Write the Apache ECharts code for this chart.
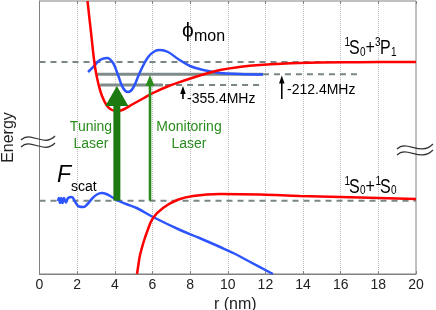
<!DOCTYPE html>
<html><head><meta charset="utf-8">
<script src="https://cdn.jsdelivr.net/npm/echarts@6/dist/echarts.min.js"></script>
<style>html,body{margin:0;padding:0;background:#fff}#c{width:436px;height:310px}</style>
</head><body><div id="c"></div>
<script>
// x in nm, y in arbitrary energy units (0 = bottom of plot, 273 = top)
const redExcited = [[2.55,273],[2.74,241],[2.95,207],[3.13,190],[3.32,178],[3.59,168],[3.85,164],[4.1,163],[4.4,164],[4.97,170],[5.5,175.5],[6.03,181],[6.8,187.5],[7.62,193],[8.6,199],[9.59,204],[10.6,207],[11.7,209],[13.8,211],[17,211.8],[20,212]];
const redGround = [[5.18,0],[5.26,10],[5.34,19],[5.53,32],[5.71,42],[6.03,56],[6.56,66],[7.31,74],[8.16,78],[9.59,80],[11.72,79.5],[13.84,78],[17.03,76.5],[20,75]];
const blueMon = [[2.58,202],[2.95,209],[3.21,214],[3.59,216],[3.91,211],[4.17,199],[4.44,186],[4.7,182],[4.97,186],[5.34,202],[5.77,217],[6.14,223],[6.4,224],[6.83,222],[7.36,215],[8.0,208],[8.69,204],[9.59,201],[10.65,200],[11.87,199.5]];
const blueScat = [[0.98,73],[1.03,76],[1.09,71],[1.15,76],[1.22,71],[1.3,76],[1.4,71.5],[1.52,76],[1.71,77],[1.9,72],[2.1,67.5],[2.33,67],[2.55,70],[2.8,75.5],[3.05,79.5],[3.3,81],[3.55,80],[3.8,77.5],[4.1,74],[4.6,70],[5.16,66],[6.03,57],[7.47,44],[8.5,36],[9.59,27],[10.4,20],[11.19,12],[12.4,0]];
const asymptoteUpper = [[0,212],[20,212]];
const asymptoteLower = [[0,73.3],[20,73.3]];
const level212Solid = [[3.06,199.7],[11.87,199.7]];
const level212Dash = [[11.87,199.7],[17.0,199.7]];
const level355Solid = [[3.22,189],[6.56,189]];
const level355Dash = [[6.67,189],[11.77,189]];
// [x, yFrom, yTo, kind]  kind 0: tuning, 1: monitoring, 2: shift marker
const laserArrows = [[4.11,73.3,188,0],[5.87,73.3,199,1]];
const shiftArrows = [[7.62,175,188,2],[12.87,175,198.5,2]];

const FONT = "'Liberation Sans', Arial, sans-serif";
const arrowStyles = {
  0: {shaft: 7, headW: 23, headH: 20, color: '#1d7a10'},
  1: {shaft: 2.6, headW: 9, headH: 11, color: '#2a8a1c'},
  2: {shaft: 1.6, headW: 5.5, headH: 8, color: '#000'}
};
function arrowRender(params, api) {
  const x = api.value(0), y0 = api.value(1), y1 = api.value(2), k = api.value(3);
  const s = arrowStyles[k];
  const p0 = api.coord([x, y0]), p1 = api.coord([x, y1]);
  return {
    type: 'group',
    children: [
      {type: 'rect', shape: {x: p0[0] - s.shaft / 2, y: p1[1] + s.headH - 1, width: s.shaft, height: p0[1] - p1[1] - s.headH + 1}, style: {fill: s.color}},
      {type: 'polygon', shape: {points: [[p1[0], p1[1]], [p1[0] - s.headW / 2, p1[1] + s.headH], [p1[0] + s.headW / 2, p1[1] + s.headH]]}, style: {fill: s.color}}
    ]
  };
}
function lineSeries(data, color, width, type, z) {
  return {type: 'line', data: data, showSymbol: false, symbol: 'none', z: z, silent: true,
    lineStyle: {color: color, width: width, type: type}};
}
function txt(x, y, text, size, opts) {
  return Object.assign({type: 'text', x: x, y: y, z: 100, style: Object.assign({text: text, fontSize: size, fontFamily: FONT, fill: '#000', verticalAlign: 'middle', align: 'left'}, opts || {})});
}
function term(x0, yc, parts) {
  return {type: 'group', x: 0, y: yc, scaleY: 1.3, z: 100,
    children: parts.map(p => ({type: 'text', x: p[0], y: p[1], z: 100,
      style: {text: p[2], fontSize: p[3], fontFamily: FONT, fill: '#000', verticalAlign: 'middle', align: 'left'}}))};
}
const chart = echarts.init(document.getElementById('c'));
const option = {
  animation: false,
  grid: {left: 39.5, right: 20, top: 1, bottom: 36, show: true, borderColor: '#808080', borderWidth: 1, outerBoundsMode: 'none', containLabel: false},
  xAxis: [{
    type: 'value', min: 0, max: 20, interval: 2,
    axisLine: {lineStyle: {color: '#808080'}},
    axisTick: {inside: true, length: 3, lineStyle: {color: '#808080'}},
    axisLabel: {fontSize: 14, color: '#222', margin: 4, fontFamily: FONT},
    splitLine: {show: true, lineStyle: {type: 'dotted', color: '#bdbdbd', width: 1}},
    name: 'r (nm)', nameLocation: 'middle', nameGap: 16,
    nameTextStyle: {fontSize: 16, color: '#222', fontFamily: FONT, padding: [0, 0, 0, 15]}
  }, {
    type: 'value', min: 0, max: 20, interval: 2, position: 'top',
    axisLine: {show: false}, axisLabel: {show: false}, splitLine: {show: false},
    axisTick: {inside: true, length: 3, lineStyle: {color: '#808080'}}
  }],
  yAxis: {
    type: 'value', min: 0, max: 273,
    axisLine: {show: true, lineStyle: {color: '#808080'}},
    axisTick: {show: false}, axisLabel: {show: false}, splitLine: {show: false},
    name: 'Energy', nameLocation: 'middle', nameGap: 23,
    nameTextStyle: {fontSize: 16, color: '#222', fontFamily: FONT}
  },
  series: [
    lineSeries(asymptoteUpper, '#7a8686', 2, [6, 5], 1),
    lineSeries(asymptoteLower, '#7a8686', 2, [6, 5], 1),
    lineSeries(level212Dash, '#7a8686', 2, [6, 5], 1),
    lineSeries(level355Dash, '#7a8686', 2, [6, 5], 1),
    lineSeries(level212Solid, '#7f8a8a', 3, 'solid', 2),
    lineSeries(level355Solid, '#7f8a8a', 3, 'solid', 2),
    Object.assign(lineSeries(blueMon, '#2d55ff', 2.5, 'solid', 3), {smooth: 0.4}),
    Object.assign(lineSeries(blueScat, '#2d55ff', 2.5, 'solid', 3), {smooth: 0.4}),
    Object.assign(lineSeries(redExcited, '#ff0000', 2.5, 'solid', 4), {smooth: 0.4}),
    Object.assign(lineSeries(redGround, '#ff0000', 2.5, 'solid', 4), {smooth: 0.4}),
    {type: 'custom', data: laserArrows, renderItem: arrowRender, encode: {x: 0, y: [1, 2]}, z: 5, silent: true},
    {type: 'custom', data: shiftArrows, renderItem: arrowRender, encode: {x: 0, y: [1, 2]}, z: 5, silent: true}
  ],
  graphic: [
    txt(182, 31, 'ϕ', 21),
    txt(194, 37, 'mon', 16),
    txt(57, 176, 'F', 23, {fontStyle: 'italic'}),
    txt(71, 187, 'scat', 14),
    txt(91, 127.5, 'Tuning', 14, {align: 'center', fill: '#2a8c1e'}),
    txt(91, 144, 'Laser', 14, {align: 'center', fill: '#2a8c1e'}),
    txt(189, 127.5, 'Monitoring', 14, {align: 'center', fill: '#2a8c1e'}),
    txt(189, 144, 'Laser', 14, {align: 'center', fill: '#2a8c1e'}),
    txt(187, 99, '-355.4MHz', 14),
    txt(287, 90, '-212.4MHz', 14),
    term(0, 48.5, [[344.5,-4.8,'1',10],[349,0,'S',16],[360,2.8,'0',10],[365.5,0,'+',16],[375,-4.8,'3',10],[380,0,'P',16],[391,2.8,'1',10]]),
    term(0, 187.2, [[344.5,-4.8,'1',10],[349,0,'S',16],[360,2.8,'0',10],[365.5,0,'+',16],[375.5,-4.8,'1',10],[380,0,'S',16],[391,2.8,'0',10]]),
    {type: 'bezierCurve', z: 100, shape: {x1: 21, y1: 140, cpx1: 31, cpy1: 130, cpx2: 43, cpy2: 148, x2: 55, y2: 136}, style: {stroke: '#333', lineWidth: 1.2, fill: null}},
    {type: 'bezierCurve', z: 100, shape: {x1: 21, y1: 147, cpx1: 31, cpy1: 137, cpx2: 43, cpy2: 155, x2: 55, y2: 143}, style: {stroke: '#333', lineWidth: 1.2, fill: null}},
    {type: 'bezierCurve', z: 100, shape: {x1: 397, y1: 149, cpx1: 407, cpy1: 139, cpx2: 420, cpy2: 157, x2: 433, y2: 144}, style: {stroke: '#333', lineWidth: 1.2, fill: null}},
    {type: 'bezierCurve', z: 100, shape: {x1: 397, y1: 155, cpx1: 407, cpy1: 145, cpx2: 420, cpy2: 163, x2: 433, y2: 150}, style: {stroke: '#333', lineWidth: 1.2, fill: null}}
  ]
};
chart.setOption(option);
</script></body></html>
